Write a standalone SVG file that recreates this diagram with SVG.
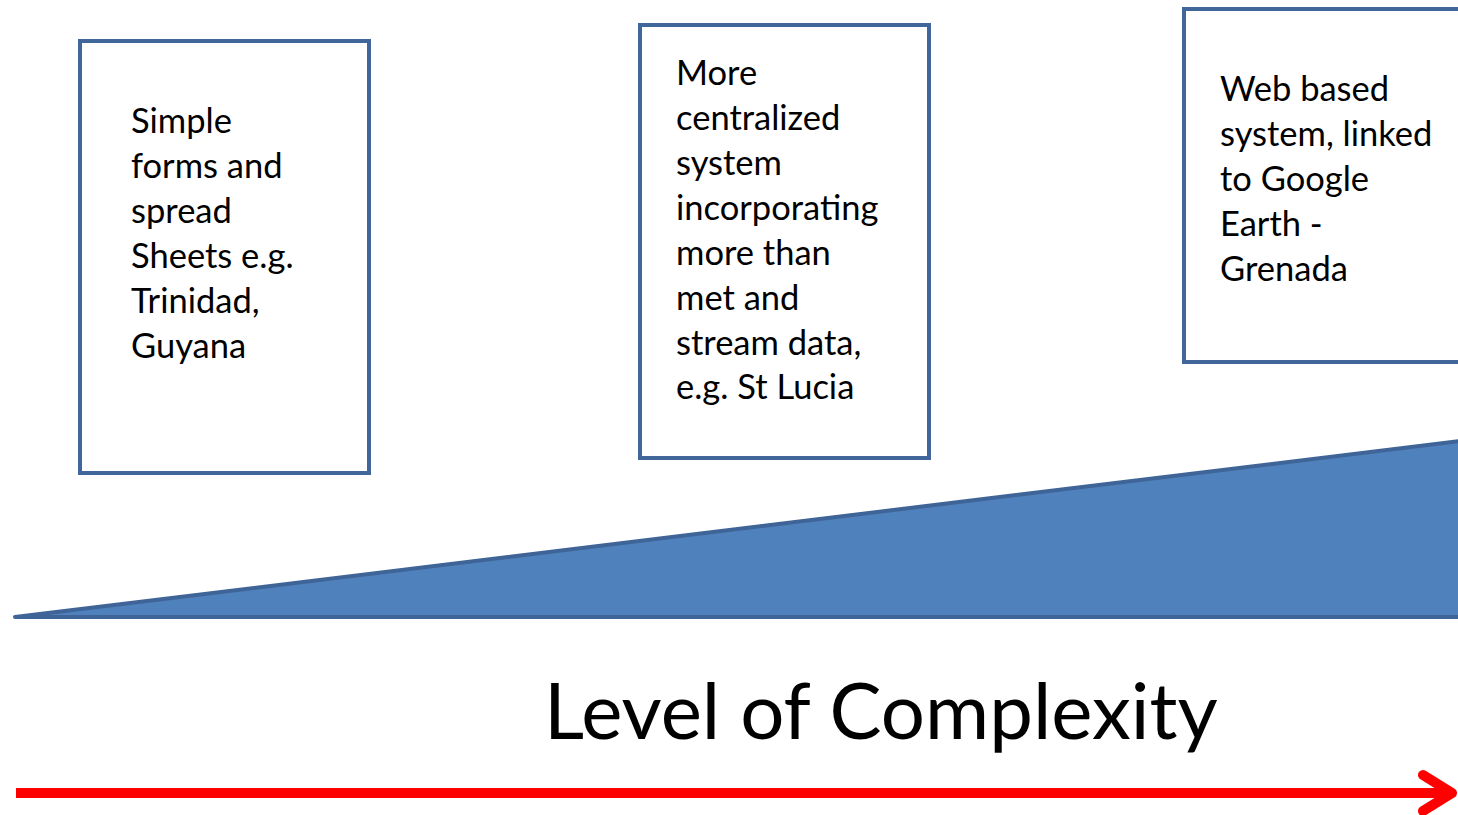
<svg xmlns="http://www.w3.org/2000/svg" width="1458" height="815" viewBox="0 0 1458 815">
<style>
.box{fill:#fff;stroke:#41679a;stroke-width:4}
.t{font-family:Lato,"Liberation Sans",sans-serif;font-size:34.5px;fill:#000}
.title{font-family:Lato,"Liberation Sans",sans-serif;font-size:78px;fill:#000}
</style>
<rect width="1458" height="815" fill="#fff"/>
<g id="ramp">
<polygon points="15,617 1460,441 1460,617" fill="#4f81bd" stroke="#3f6497" stroke-width="4" stroke-linejoin="round"/>
</g>
<g id="box1">
<rect class="box" x="80" y="41" width="289" height="432"/>
<text class="t" x="131"><tspan x="131" y="133">Simple</tspan><tspan x="131" y="178">forms and</tspan><tspan x="131" y="223">spread</tspan><tspan x="131" y="268">Sheets e.g.</tspan><tspan x="131" y="313">Trinidad,</tspan><tspan x="131" y="358">Guyana</tspan></text>
</g>
<g id="box2">
<rect class="box" x="640" y="25" width="289" height="433"/>
<text class="t"><tspan x="676" y="85">More</tspan><tspan x="676" y="130">centralized</tspan><tspan x="676" y="175">system</tspan><tspan x="676" y="220">incorporating</tspan><tspan x="676" y="265">more than</tspan><tspan x="676" y="310">met and</tspan><tspan x="676" y="355">stream data,</tspan><tspan x="676" y="399">e.g. St Lucia</tspan></text>
</g>
<g id="box3">
<rect class="box" x="1184" y="9" width="290" height="353"/>
<text class="t"><tspan x="1220" y="101">Web based</tspan><tspan x="1220" y="146">system, linked</tspan><tspan x="1220" y="191">to Google</tspan><tspan x="1220" y="236">Earth -</tspan><tspan x="1220" y="281">Grenada</tspan></text>
</g>
<g id="label">
<text class="title" x="544" y="739">Level of Complexity</text>
</g>
<g id="connectors">
<line x1="16" y1="793" x2="1452" y2="793" stroke="#ff0000" stroke-width="10"/>
<polyline points="1423,775 1452,793 1423,811" fill="none" stroke="#ff0000" stroke-width="10" stroke-linecap="round" stroke-linejoin="round"/>
</g>
</svg>
